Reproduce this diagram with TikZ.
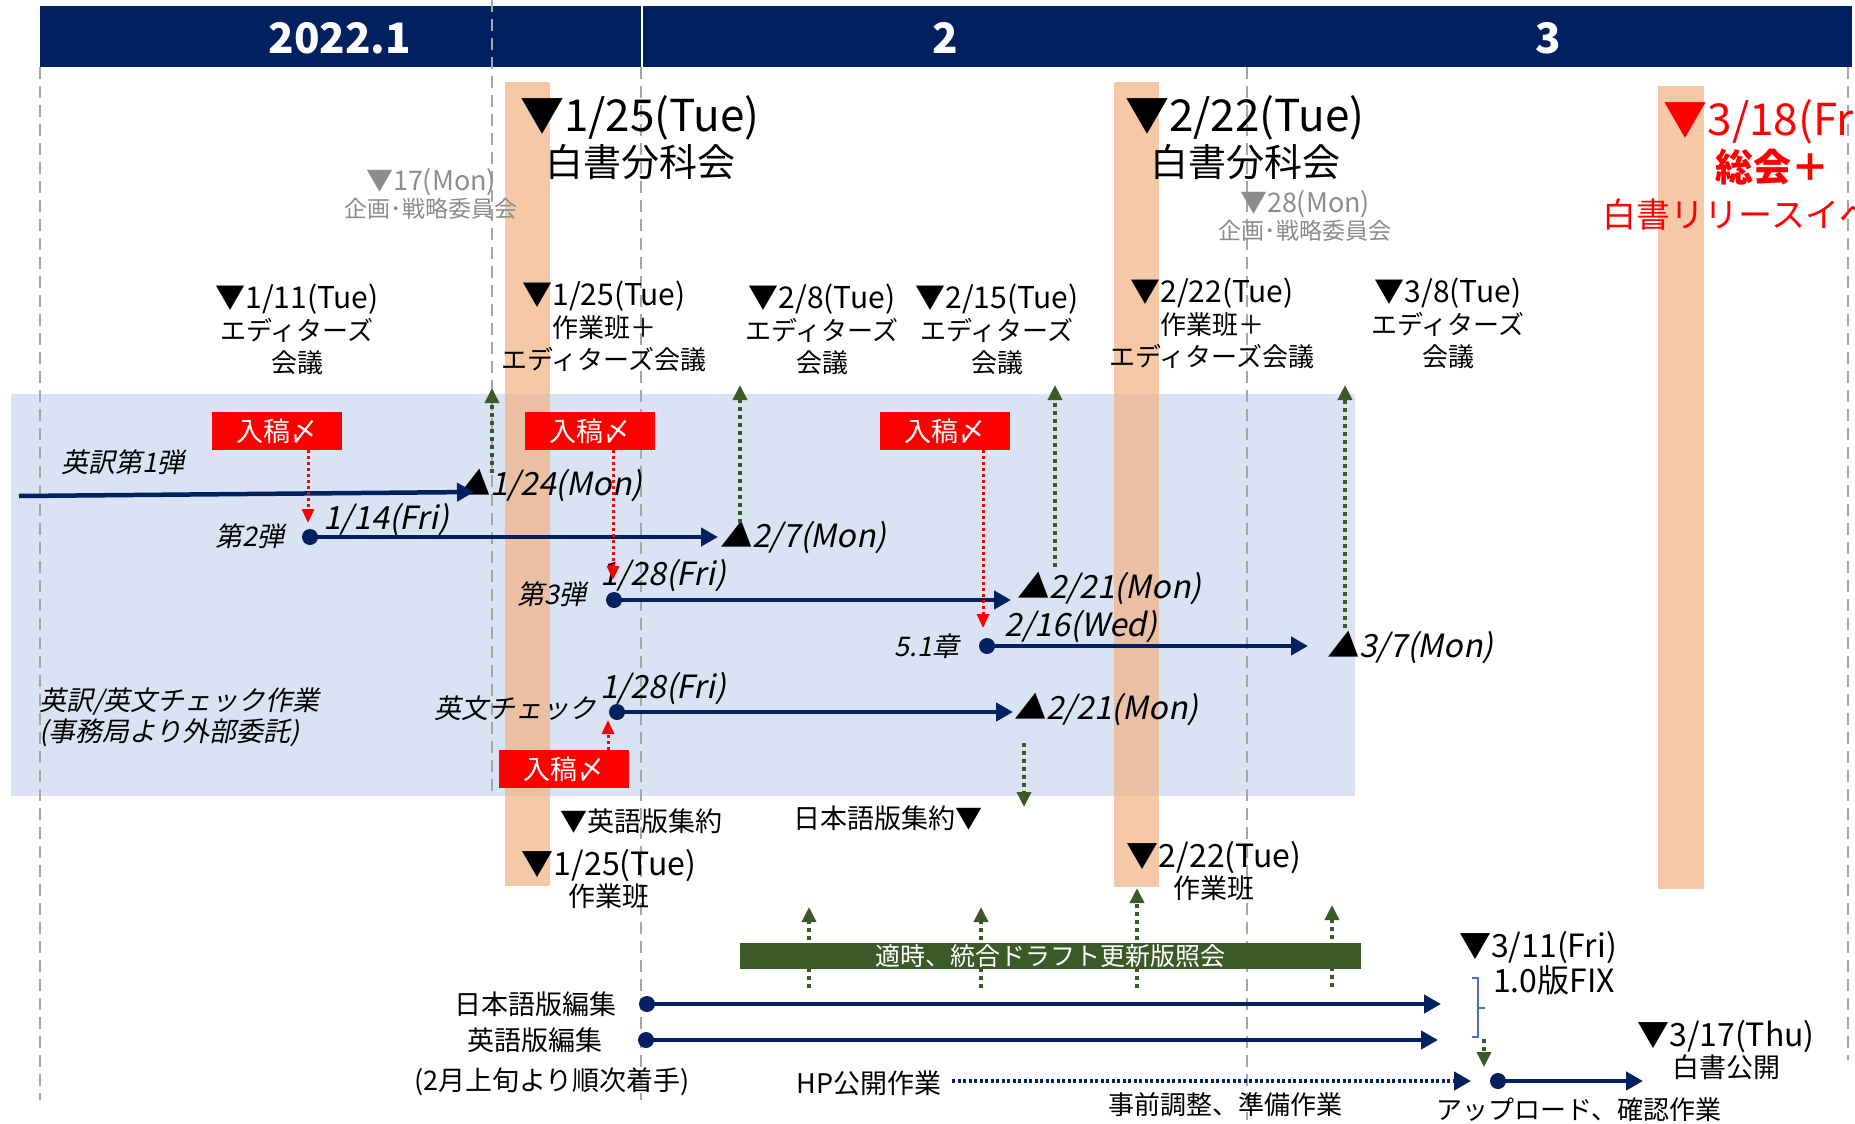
\documentclass[tikz,border=0pt]{standalone}
\usepackage{fontspec}
\setmainfont{Noto Sans CJK JP}
\newfontfamily\jpit{Noto Sans CJK JP}[FakeSlant=0.2]
\usetikzlibrary{arrows.meta}
\definecolor{navy}{HTML}{002060}
\definecolor{oran}{HTML}{F1B083}
\definecolor{lblue}{HTML}{DAE3F3}
\definecolor{dgreen}{HTML}{3B5A27}
\definecolor{gline}{HTML}{A6A6A6}
\definecolor{gtext}{HTML}{8C8C8C}
\definecolor{bracec}{HTML}{4472C4}
\definecolor{redc}{HTML}{FF0000}
\newcommand{\fBig}{\fontsize{38}{45}\selectfont}
\newcommand{\fRed}{\fontsize{38}{46}\selectfont}
\newcommand{\fMid}{\fontsize{26}{32}\selectfont}
\newcommand{\fGry}{\fontsize{23}{27}\selectfont}
\newcommand{\fBox}{\fontsize{27}{30}\selectfont}
\newcommand{\fLab}{\fontsize{27}{31}\selectfont}
\newcommand{\fSm}{\fontsize{26}{30}\selectfont}
\newcommand{\fDat}{\fontsize{32}{36}\selectfont}
\newcommand{\fHd}{\fontsize{42}{46}\selectfont}
\newcommand{\dsz}[2]{{\fontsize{#1}{#1}\selectfont #2}}
\tikzset{
  vline/.style={gline, line width=2pt, dash pattern=on 12pt off 7pt},
  obar/.style={fill=oran, fill opacity=0.7, draw=none},
  navyarr/.style={navy, line width=4.5pt, -{Triangle[length=17pt,width=18pt]}},
  hparr/.style={navy, line width=4.5pt, dash pattern=on 3pt off 2.5pt, -{Triangle[length=17pt,width=18pt]}},
  ndot/.style={circle, fill=navy, minimum size=16pt},
  redarr/.style={redc, line width=3pt, dash pattern=on 3pt off 3pt, -{Triangle[length=14pt,width=12pt]}},
  grarr/.style={dgreen, line width=3.5pt, dash pattern=on 4pt off 4pt, -{Triangle[length=15pt,width=14pt]}},
  redbox/.style={fill=redc, text=white, minimum width=130pt, minimum height=38pt, font=\fBox},
  midtxt/.style={align=center, font=\fMid},
  bigtxt/.style={align=center, font=\fBig},
  grytxt/.style={align=center, font=\fGry, text=gtext},
  ittxt/.style={font=\fLab\jpit},
  dattxt/.style={font=\fDat\jpit},
  lowtxt/.style={align=center, font=\fLab},
  smtxt/.style={align=center, font=\fSm},
}
\begin{document}
\begin{tikzpicture}[x=1pt,y=-1pt, every node/.style={inner sep=0pt, outer sep=0pt}]
\useasboundingbox (0,0) rectangle (1855,1124);
% light blue area
\fill[lblue] (11,394) rectangle (1355,796);
% orange bars
\fill[obar] (505,82) rectangle (550,886);
\fill[obar] (1114,82) rectangle (1159,887);
\fill[obar] (1658,86) rectangle (1704,889);
% header
\fill[navy] (40,6) rectangle (1852,67);
\draw[white, line width=2pt] (642,6) -- (642,67);
\node[font=\fHd\bfseries, text=white] (h1) at (340,38) {2022.1};
\node[font=\fHd\bfseries, text=white] (h2) at (945,38) {2};
\node[font=\fHd\bfseries, text=white] (h3) at (1548,38) {3};
% vertical dashed lines
\draw[vline] (40,67) -- (40,1100);
\draw[vline] (492,0) -- (492,797);
\draw[vline] (641,67) -- (641,1100);
\draw[vline] (1247,67) -- (1247,1120);
\draw[vline] (1848,67) -- (1848,1060);

% big meeting labels
\node[bigtxt, anchor=north] (m1) at (640,96) {\dsz{44}{▼1/25(Tue)}\\白書分科会};
\node[bigtxt, anchor=north] (m2) at (1245,96) {\dsz{44}{▼2/22(Tue)}\\白書分科会};
\node[align=center, font=\fRed, text=redc, anchor=north] (m3) at (1772,100) {\dsz{44}{▼3/18(Fri)}\\\textbf{総会＋}\\\dsz{34}{白書リリースイベント}};
\node[grytxt, anchor=north] (k1) at (431,168) {\dsz{27}{▼17(Mon)}\\企画･戦略委員会};
\node[grytxt, anchor=north] (k2) at (1305,190) {\dsz{27}{▼28(Mon)}\\企画･戦略委員会};

% editors meetings
\node[midtxt, anchor=north] (e1) at (297,284) {\dsz{30}{▼1/11(Tue)}\\エディターズ\\会議};
\node[midtxt, anchor=north] (e2) at (604,281) {\dsz{30}{▼1/25(Tue)}\\作業班＋\\エディターズ会議};
\node[midtxt, anchor=north] (e3) at (822,284) {\dsz{30}{▼2/8(Tue)}\\エディターズ\\会議};
\node[midtxt, anchor=north] (e4) at (997,284) {\dsz{30}{▼2/15(Tue)}\\エディターズ\\会議};
\node[midtxt, anchor=north] (e5) at (1212,278) {\dsz{30}{▼2/22(Tue)}\\作業班＋\\エディターズ会議};
\node[midtxt, anchor=north] (e6) at (1448,278) {\dsz{30}{▼3/8(Tue)}\\エディターズ\\会議};

% red boxes
\node[redbox] (r1) at (277,431) {入稿〆};
\node[redbox] (r2) at (590,431) {入稿〆};
\node[redbox] (r3) at (945,431) {入稿〆};
\node[redbox] (r4) at (564,769) {入稿〆};

% row labels
\node[ittxt] (t1) at (123,462) {英訳第1弾};
\node[ittxt] (t2) at (250,536) {第2弾};
\node[ittxt] (t3) at (552,594) {第3弾};
\node[ittxt] (t4) at (927,646) {5.1章};
\node[ittxt] (t5) at (515,708) {英文チェック};
\node[ittxt, align=left, anchor=west] (t6) at (39,717) {英訳/英文チェック作業\\(事務局より外部委託)};

% dots
\node[ndot] (d2) at (310,537) {};
\node[ndot] (d3) at (614,600) {};
\node[ndot] (d4) at (987,646) {};
\node[ndot] (d5) at (617,712) {};

% start dates
\node[dattxt] (s2) at (386,520) {1/14(Fri)};
\node[dattxt] (s3) at (663,576) {1/28(Fri)};
\node[dattxt] (s4) at (1081,627) {2/16(Wed)};
\node[dattxt] (s5) at (663,689) {1/28(Fri)};

% end dates
\node[dattxt, anchor=west] (f1) at (458,485) {▲1/24(Mon)};
\node[dattxt, anchor=west] (f2) at (720,537) {▲2/7(Mon)};
\node[dattxt, anchor=west] (f3) at (1017,588) {▲2/21(Mon)};
\node[dattxt, anchor=west] (f4) at (1327,647) {▲3/7(Mon)};
\node[dattxt, anchor=west] (f5) at (1014,709) {▲2/21(Mon)};

% arrow coordinates
\coordinate (l1s) at (19,496);
\coordinate (l1e) at (474,492);
\coordinate (l2e) at (718,537);
\coordinate (l3e) at (1011,600);
\coordinate (l4e) at (1308,646);
\coordinate (l5e) at (1013,712);
\draw[navyarr] (l1s) -- (l1e);
\draw[navyarr] (d2.center) -- (l2e);
\draw[navyarr] (d3.center) -- (l3e);
\draw[navyarr] (d4.center) -- (l4e);
\draw[navyarr] (d5.center) -- (l5e);

% red dotted arrows
\coordinate (rt1) at (308,523);
\coordinate (rt2) at (613,580);
\coordinate (rt3) at (983,628);
\coordinate (rt4) at (608,720);
\draw[redarr] (r1.south -| rt1) -- (rt1);
\draw[redarr] (r2.south -| rt2) -- (rt2);
\draw[redarr] (r3.south -| rt3) -- (rt3);
\draw[redarr] (r4.north -| rt4) -- (rt4);

% green dotted arrows (upper)
\coordinate (gt1) at (492,388);
\coordinate (gt2) at (740,385);
\coordinate (gt3) at (1055,385);
\coordinate (gt4) at (1345,385);
\draw[grarr] (492,473) -- (gt1);
\draw[grarr] (740,523) -- (gt2);
\draw[grarr] (1055,567) -- (gt3);
\draw[grarr] (1345,628) -- (gt4);
\coordinate (gds) at (1024,743);
\coordinate (gde) at (1024,807);
\draw[grarr] (gds) -- (gde);

% lower labels
\node[lowtxt] (c1) at (641,821) {▼英語版集約};
\node[lowtxt] (c2) at (888,818) {日本語版集約▼};
\node[lowtxt, anchor=north] (w1) at (609,849) {\dsz{32}{▼1/25(Tue)}\\作業班};
\node[lowtxt, anchor=north] (w2) at (1214,841) {\dsz{32}{▼2/22(Tue)}\\作業班};

% green up arrows through the bar
\coordinate (ga1) at (809,907);
\coordinate (ga2) at (981,907);
\coordinate (ga3) at (1137,888);
\coordinate (ga4) at (1332,905);
\draw[grarr] (809,988) -- (ga1);
\draw[grarr] (981,988) -- (ga2);
\draw[grarr] (1137,988) -- (ga3);
\draw[grarr] (1332,987) -- (ga4);
\node[fill=dgreen, minimum width=621pt, minimum height=26pt, text=white, font=\fontsize{25}{28}\selectfont] (gb) at (1050.5,956) {適時、統合ドラフト更新版照会};

% bottom section
\node[lowtxt] (j1) at (535,1004) {日本語版編集};
\node[lowtxt] (j2) at (535,1040) {英語版編集};
\node[lowtxt] (j3) at (552,1082) {(2月上旬より順次着手)};
\node[ndot] (jd1) at (647,1004) {};
\node[ndot] (jd2) at (646,1040) {};
\coordinate (je1) at (1441,1004);
\coordinate (je2) at (1438,1040);
\draw[navyarr] (jd1.center) -- (je1);
\draw[navyarr] (jd2.center) -- (je2);

\node[lowtxt] (hp) at (869,1083) {HP公開作業};
\coordinate (hps) at (952,1081);
\coordinate (hpe) at (1471,1081);
\draw[hparr] (hps) -- (hpe);
\node[smtxt] (pre) at (1225,1105) {事前調整、準備作業};

\node[ndot] (ud) at (1498,1081) {};
\coordinate (ue) at (1643,1081);
\draw[navyarr] (ud.center) -- (ue);
\node[smtxt] (up) at (1579,1110) {アップロード、確認作業};

\node[lowtxt] (fx1) at (1538,948) {\dsz{32}{▼3/11(Fri)}};
\node[lowtxt, anchor=east] (fx2) at (1615,980) {\dsz{32}{1.0版FIX}};
\draw[bracec, line width=1.5pt] (1472,978) -- (1478,978) -- (1478,1037) -- (1472,1037);
\draw[bracec, line width=1.5pt] (1478,1008) -- (1485,1008);
\coordinate (bds) at (1484,1039);
\coordinate (bde) at (1484,1067);
\draw[grarr] (bds) -- (bde);

\node[lowtxt, anchor=north] (pub) at (1726,1020) {\dsz{32}{▼3/17(Thu)}\\白書公開};
\end{tikzpicture}
\end{document}
